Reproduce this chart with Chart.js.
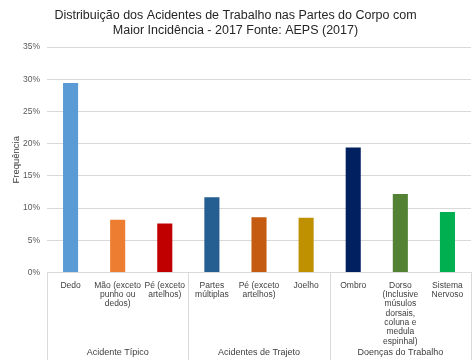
<!DOCTYPE html>
<html>
<head>
<meta charset="utf-8">
<script src="https://cdn.jsdelivr.net/npm/chart.js@4"></script>
<style>
body{margin:0;background:#fff}
#wrap{width:474px;height:363px}
</style>
</head>
<body>
<div id="wrap"><canvas id="partesChart" width="474" height="363"></canvas></div>
<script>
// dados (AEPS 2017)
const categorias=[
["Dedo"],
["Mão (exceto","punho ou","dedos)"],
["Pé (exceto","artelhos)"],
["Partes","múltiplas"],
["Pé (exceto","artelhos)"],
["Joelho"],
["Ombro"],
["Dorso","(Inclusive","músulos","dorsais,","coluna e","medula","espinhal)"],
["Sistema","Nervoso"]
]
const grupos=["Acidente Típico","Acidentes de Trajeto","Doenças do Trabalho"]
const porGrupo=3
const frequencia=[29.4,8.2,7.6,11.7,8.6,8.5,19.4,12.2,9.4]
const cores=["#5B9BD5","#ED7D31","#C00000","#255E91","#C55A11","#BF9000","#002060","#548235","#00B050"]
const yTicks=[0,5,10,15,20,25,30,35]

const linhaCinza="#D9D9D9"
const textoCinza="#595959"
const fonte="'Liberation Sans', Arial, sans-serif"

// linhas divisórias e nomes dos grupos abaixo do eixo x
const gruposPlugin={
id:"grupos",
afterDraw(chart){
const ctx=chart.ctx
const x=chart.scales.x
const area=chart.chartArea
const fim=chart.height-3
ctx.save()
ctx.strokeStyle=linhaCinza
ctx.lineWidth=1
for(let g=0;g<=grupos.length;g++){
let px
if(g===0) px=area.left
else if(g===grupos.length) px=area.right
else px=(x.getPixelForValue(g*porGrupo-1)+x.getPixelForValue(g*porGrupo))/2
px=Math.round(px)+0.5
ctx.beginPath()
ctx.moveTo(px,area.bottom)
ctx.lineTo(px,fim)
ctx.stroke()
}
ctx.fillStyle="#404040"
ctx.font="9px "+fonte
ctx.textAlign="center"
ctx.textBaseline="middle"
grupos.forEach((nome,g)=>{
const a=x.getPixelForValue(g*porGrupo)
const b=x.getPixelForValue(g*porGrupo+porGrupo-1)
ctx.fillText(nome,(a+b)/2,chart.height-10)
})
ctx.restore()
}
}

new Chart(document.getElementById("partesChart"),{
type:"bar",
data:{
labels:categorias,
datasets:[{
label:"Frequência",
data:frequencia,
backgroundColor:cores,
borderWidth:0,
categoryPercentage:1,
barPercentage:0.32
}]
},
options:{
responsive:false,
animation:false,
layout:{padding:{left:0,right:3,top:0,bottom:9}},
plugins:{
legend:{display:false},
tooltip:{enabled:false},
title:{
display:true,
text:["Distribuição dos Acidentes de Trabalho nas Partes do Corpo com","Maior Incidência - 2017 Fonte: AEPS (2017)"],
color:"#262626",
font:{family:fonte,size:12.5,weight:"normal",lineHeight:1.2},
padding:{top:8,bottom:9}
}
},
scales:{
x:{
grid:{display:false,drawTicks:false},
border:{display:true,color:linhaCinza},
ticks:{
autoSkip:false,
maxRotation:0,
padding:8,
color:"#404040",
font:{family:fonte,size:8.5,lineHeight:1.1}
}
},
y:{
min:0,
max:35,
afterBuildTicks(s){s.ticks=yTicks.map(v=>({value:v}))},
afterFit(s){s.width=47},
grid:{color:linhaCinza,drawTicks:false},
border:{display:false},
ticks:{
padding:7,
color:textoCinza,
font:{family:fonte,size:8.5},
callback:v=>v+"%"
},
title:{
display:true,
text:"Frequência",
color:"#404040",
font:{family:fonte,size:9.5},
padding:{top:11,bottom:1}
}
}
}
},
plugins:[gruposPlugin]
})
</script>
</body>
</html>
